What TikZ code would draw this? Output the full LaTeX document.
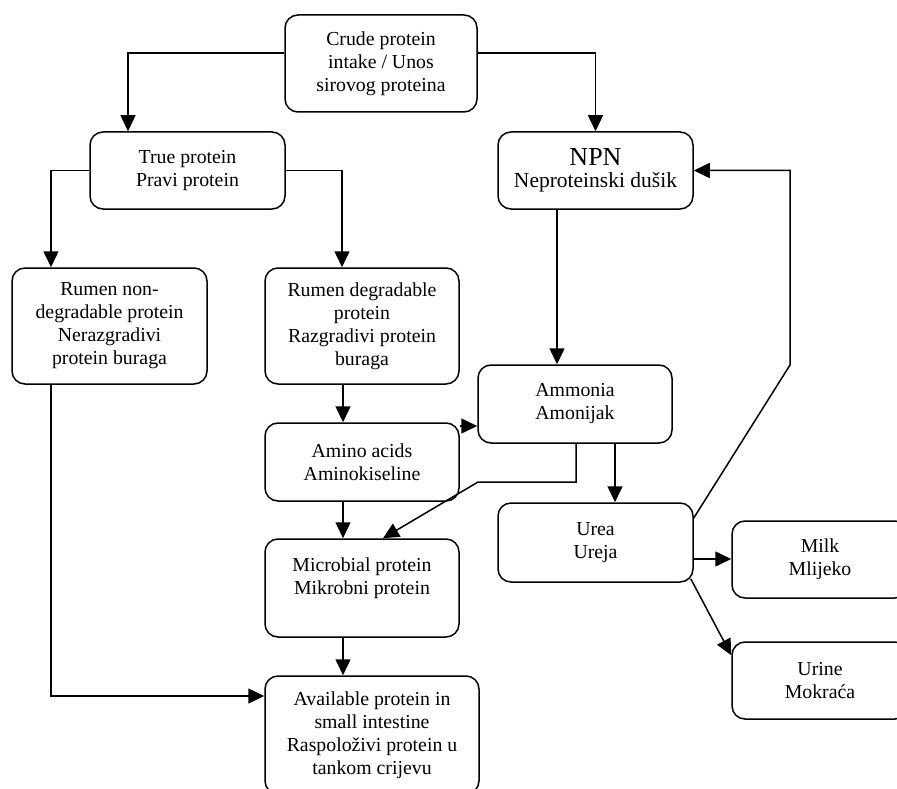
\documentclass[tikz,border=0pt]{standalone}
\usepackage{fontspec}
\setmainfont{Liberation Serif}
\usetikzlibrary{arrows.meta}
\begin{document}
\begin{tikzpicture}[x=1pt,y=-1pt,
  box/.style={draw, line width=1.5pt, rounded corners=13pt, align=center, inner sep=0pt,
    font=\fontsize{19.8}{23}\selectfont},
  arr/.style={line width=1.5pt, -{Triangle[length=16pt,width=15pt]}}]
\useasboundingbox (0,0) rectangle (897,789);
\clip (0,0) rectangle (897,789);
% boxes
\node[box, minimum width=192pt, minimum height=97pt] (crude) at (381,63.5)
  {Crude protein\\intake / Unos\\sirovog proteina};
\node[box, minimum width=195pt, minimum height=77pt] (true) at (187.5,170.5)
  {True protein\\Pravi protein};
\node[box, minimum width=195pt, minimum height=77pt] (npn) at (595.5,170.5)
  {{\fontsize{26}{28}\selectfont NPN}\\[-1pt]{\fontsize{21.5}{24}\selectfont Neproteinski dušik}};
\node[box, minimum width=195pt, minimum height=116pt] (rnd) at (109.5,326)
  {Rumen non-\\degradable protein\\Nerazgradivi\\protein buraga};
\node[box, minimum width=194pt, minimum height=116pt] (rd) at (362,326)
  {Rumen degradable\\protein\\Razgradivi protein\\buraga};
\node[box, minimum width=194pt, minimum height=78pt] (amm) at (575,404)
  {Ammonia\\Amonijak};
\node[box, minimum width=194pt, minimum height=78pt] (amino) at (362,462)
  {Amino acids\\Aminokiseline};
\node[box, minimum width=195pt, minimum height=79pt] (urea) at (595.5,542.5)
  {Urea\\Ureja};
\node[box, minimum width=194pt, minimum height=98pt] (micro) at (362,588)
  {Microbial protein\\Mikrobni protein\\\mbox{}};
\node[box, minimum width=214pt, minimum height=118pt] (avail) at (372,735)
  {Available protein in\\small intestine\\Raspoloživi protein u\\tankom crijevu};
\node[box, minimum width=176pt, minimum height=77pt] (milk) at (820,559.5)
  {Milk\\Mlijeko};
\node[box, minimum width=176pt, minimum height=77pt] (urine) at (820,680.5)
  {Urine\\Mokraća};
% helper coordinates
\coordinate (bend) at (478,482);
\coordinate (up1) at (790,365);
% connectors
\draw[arr] ([yshift=10.5pt]crude.west) -| ([xshift=-59.5pt]true.north);
\draw[arr] ([yshift=10.5pt]crude.east) -| (npn.north);
\draw[arr] (true.west) -| ([xshift=-58.5pt]rnd.north);
\draw[arr] (true.east) -| ([xshift=-20pt]rd.north);
\draw[arr] ([xshift=-38.5pt]npn.south) -- ([xshift=-38.5pt]npn.south |- amm.north);
\draw[arr] ([xshift=-19pt]rd.south) -- ([xshift=-19pt]amino.north);
\draw[arr] ([yshift=36pt]amino.east) -- ([yshift=36pt]amino.east -| amm.west);
\draw[arr] ([xshift=-19pt]amino.south) -- ([xshift=-19pt]micro.north);
\draw[arr] ([xshift=1pt]amm.south) |- (bend) -- ([xshift=21pt]micro.north);
\draw[arr] ([xshift=40pt]amm.south) -- ([xshift=40pt]amm.south |- urea.north);
\draw[arr] ([yshift=24.5pt]urea.east) -- (up1) |- (npn.east);
\draw[arr] ([yshift=-16.5pt]urea.east) -- ([yshift=-16.5pt]urea.east -| milk.west);
\draw[arr] ([xshift=-3pt,yshift=4pt]urea.south east) -- ([yshift=-14pt]urine.north west);
\draw[arr] ([xshift=-19pt]micro.south) -- ([xshift=-19pt]micro.south |- avail.north);
\draw[arr] ([xshift=-58.5pt]rnd.south) |- ([yshift=39pt]avail.west);
\end{tikzpicture}
\end{document}
